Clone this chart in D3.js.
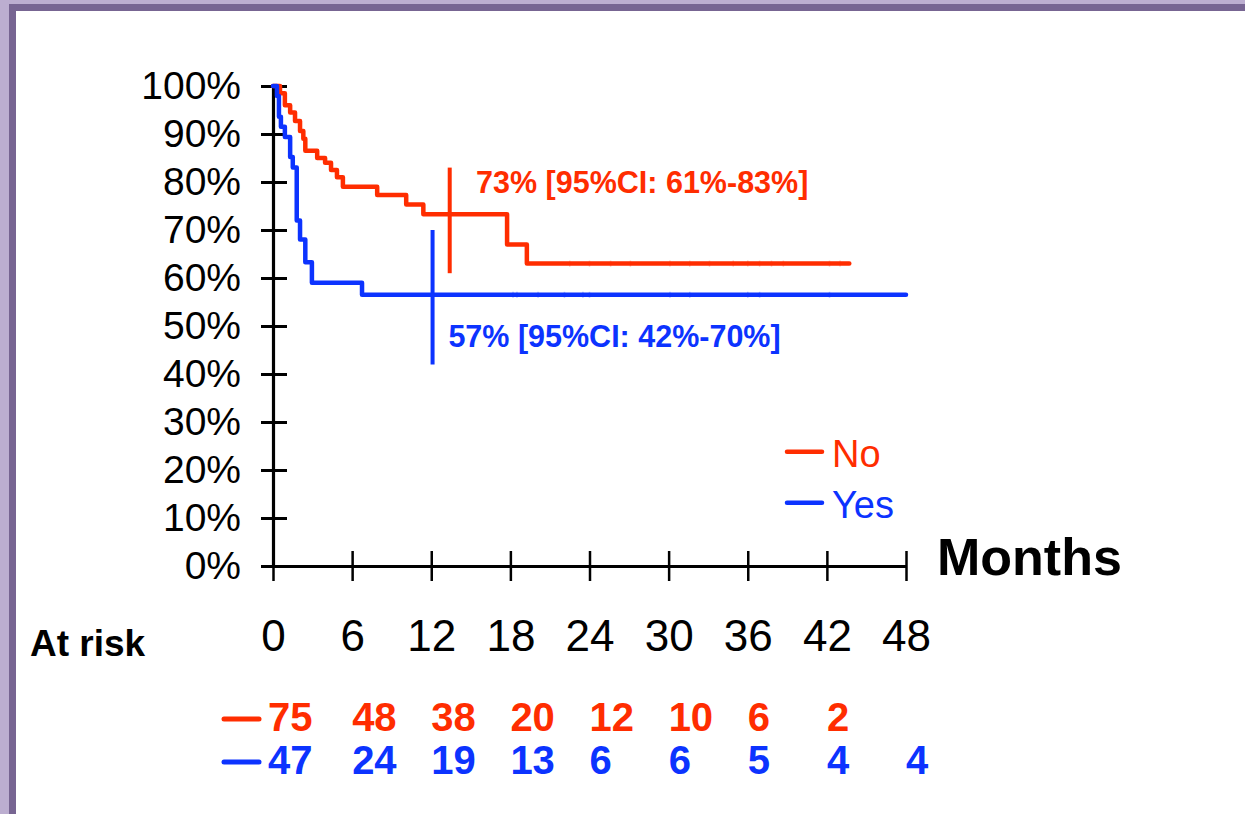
<!DOCTYPE html>
<html>
<head>
<meta charset="utf-8">
<script src="https://cdn.jsdelivr.net/npm/d3@7"></script>
<style>
	body { margin: 0; background: #fff; }
	text { font-family: "Liberation Sans", Arial, sans-serif; }
</style>
</head>
<body>
<div id="canvas"></div>
<script>
// Kaplan-Meier steps (months, survival %)
var noTime = [0, 0.53, 0.9, 1.3, 1.67, 2.05, 2.3, 2.45, 3.35, 3.95, 4.4, 4.85, 5.3, 7.9, 10.1, 11.4, 17.75, 19.25, 43.7];
var noSurv = [100, 98.5, 96, 94.5, 92.7, 90.6, 89, 86.5, 85, 84, 82.5, 81, 79, 77.3, 75.3, 73.3, 67, 63, 63];
var yesTime = [0, 0.3, 0.45, 0.6, 0.9, 1.3, 1.5, 1.8, 2.05, 2.45, 2.95, 6.75, 48];
var yesSurv = [100, 97.9, 93.6, 91.5, 89.4, 85.2, 83, 72, 68, 63.3, 59, 56.5, 56.5];
// censored observations
var noCensor = [22.5, 24.0, 25.6, 27.1, 30.1, 31.6, 33.1, 34.9, 36.0, 36.9, 37.8, 38.7, 42.2, 43.0];
var yesCensor = [18.2, 18.5, 20.1, 22.1, 23.5, 24.0, 30.1, 31.6, 36.0, 36.9, 42.2];
// 12 month estimates with 95% CI: [month, estimate, low, high]
var ciNo = [13.4, 73, 61, 83];
var ciYes = [12.1, 57, 42, 70];
var ciNoLabel = "73% [95%CI: 61%-83%]";
var ciYesLabel = "57% [95%CI: 42%-70%]";

var monthTicks = [0, 6, 12, 18, 24, 30, 36, 42, 48];
var pctTicks = [0, 10, 20, 30, 40, 50, 60, 70, 80, 90, 100];
var groups = ["No", "Yes"];
var riskNo = [75, 48, 38, 20, 12, 10, 6, 2];
var riskYes = [47, 24, 19, 13, 6, 6, 5, 4, 4];

var RED = "#ff2d00", BLUE = "#0c33ff";

var svg = d3.select("#canvas").append("svg")
	.attr("width", 1245)
	.attr("height", 814);

// slide frame
svg.append("rect").attr("width", 1245).attr("height", 814).attr("fill", "#bcaed0");
svg.append("rect").attr("x", 9).attr("y", 4).attr("width", 1245).attr("height", 814).attr("fill", "#776592");
svg.append("rect").attr("x", 16).attr("y", 11).attr("width", 1245).attr("height", 814).attr("fill", "#ffffff");

var x = d3.scaleLinear().domain([0, 48]).range([273, 906]);
var y = d3.scaleLinear().domain([0, 100]).range([566, 86]);

// y axis
var yAxis = svg.append("g")
	.attr("transform", "translate(" + x(0) + ",0)")
	.call(d3.axisLeft(y).tickValues(pctTicks).tickSize(12).tickSizeOuter(0).tickPadding(20)
		.tickFormat(function(d){ return d + "%"; }));
yAxis.selectAll(".tick line").attr("x1", 14).attr("x2", -12).attr("stroke-width", 3);
yAxis.select(".domain").attr("stroke-width", 3.2);
yAxis.selectAll("text").attr("font-size", 39).attr("fill", "#000")
	.style("font-family", "'Liberation Sans', Arial, sans-serif");

// x axis
var xAxis = svg.append("g")
	.attr("transform", "translate(0," + y(0) + ")")
	.call(d3.axisBottom(x).tickValues(monthTicks).tickSize(15).tickSizeOuter(0).tickPadding(39));
xAxis.selectAll(".tick line").attr("y1", -15).attr("y2", 15).attr("stroke-width", 2.5);
xAxis.select(".domain").attr("stroke-width", 3.2);
xAxis.selectAll("text").attr("font-size", 44).attr("fill", "#000")
	.style("font-family", "'Liberation Sans', Arial, sans-serif");

svg.append("text")
	.attr("x", 937).attr("y", 575)
	.attr("font-size", 52).attr("font-weight", "bold")
	.text("Months");

// curves
var line = d3.line()
	.x(function(d){ return x(d[0]); })
	.y(function(d){ return y(d[1]); })
	.curve(d3.curveStepAfter);

var curves = [
	{ t: noTime, s: noSurv, c: RED, cens: noCensor, ci: ciNo },
	{ t: yesTime, s: yesSurv, c: BLUE, cens: yesCensor, ci: ciYes }
];

curves.forEach(function(k){
	var pts = k.t.map(function(t, i){ return [t, k.s[i]]; });
	svg.append("path")
		.attr("d", line(pts))
		.attr("fill", "none")
		.attr("stroke", k.c)
		.attr("stroke-width", 4.5)
		.attr("stroke-linejoin", "round")
		.attr("stroke-linecap", "round");
	// small censor ticks, barely visible
	var last = k.s[k.s.length - 1];
	svg.selectAll(null).data(k.cens).enter().append("line")
		.attr("x1", function(d){ return x(d); })
		.attr("x2", function(d){ return x(d); })
		.attr("y1", y(last) - 3)
		.attr("y2", y(last) + 3)
		.attr("stroke", k.c)
		.attr("stroke-opacity", 0.3)
		.attr("stroke-width", 1.5);
	// CI bar
	svg.append("line")
		.attr("x1", x(k.ci[0])).attr("x2", x(k.ci[0]))
		.attr("y1", y(k.ci[3])).attr("y2", y(k.ci[2]))
		.attr("stroke", k.c)
		.attr("stroke-width", 4);
});

svg.append("text")
	.attr("x", x(15.4)).attr("y", y(77.8))
	.attr("font-size", 30.5).attr("font-weight", "bold")
	.attr("fill", RED)
	.text(ciNoLabel);
svg.append("text")
	.attr("x", x(13.3)).attr("y", y(45.6))
	.attr("font-size", 30.5).attr("font-weight", "bold")
	.attr("fill", BLUE)
	.text(ciYesLabel);

// legend
var legend = svg.append("g");
groups.forEach(function(g, i){
	var c = i === 0 ? RED : BLUE;
	var ly = y(23.8) + i * 51;
	legend.append("line")
		.attr("x1", 787).attr("x2", 822)
		.attr("y1", ly).attr("y2", ly)
		.attr("stroke", c).attr("stroke-width", 4.5)
		.attr("stroke-linecap", "round");
	legend.append("text")
		.attr("x", 832).attr("y", ly + 15)
		.attr("font-size", 38)
		.attr("fill", c)
		.text(g);
});

// at risk table
svg.append("text")
	.attr("x", 30).attr("y", 656)
	.attr("font-size", 37).attr("font-weight", "bold")
	.text("At risk");

[riskNo, riskYes].forEach(function(row, r){
	var c = r === 0 ? RED : BLUE;
	var by = 731 + r * 43;
	svg.append("line")
		.attr("x1", 224).attr("x2", 259)
		.attr("y1", by - 12).attr("y2", by - 12)
		.attr("stroke", c).attr("stroke-width", 5)
		.attr("stroke-linecap", "round");
	svg.selectAll(null).data(row).enter().append("text")
		.attr("x", function(d, i){ return x(monthTicks[i]) - (i === 0 ? 5 : 0); })
		.attr("y", by)
		.attr("font-size", 40).attr("font-weight", "bold")
		.attr("fill", c)
		.text(function(d){ return d; });
});
</script>
</body>
</html>
